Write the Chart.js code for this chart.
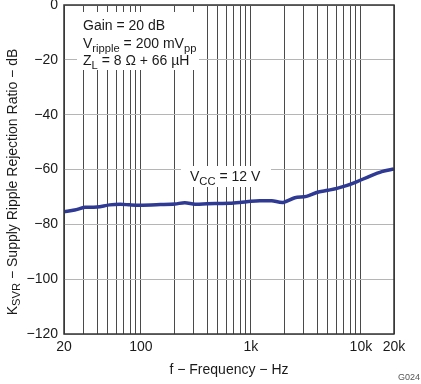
<!DOCTYPE html>
<html>
<head>
<meta charset="UTF-8">
<title>KSVR vs Frequency</title>
<style>
  body { margin: 0; background: #fff; }
  #wrap { width: 421px; height: 384px; position: relative; }
</style>
<script src="https://cdn.jsdelivr.net/npm/chart.js"></script>
</head>
<body>
<div id="wrap"><canvas id="c" width="421" height="384"></canvas></div>
<script>
// data
const freqHz = [20, 25, 31, 40, 52, 65, 80, 98, 150, 204, 251, 311, 400, 522, 642, 795, 1000, 1207, 1545, 1970, 2513, 3200, 3960, 5000, 6060, 7500, 9250, 12100, 15500, 20000];
const ksvrDb = [-75.4, -74.8, -73.8, -73.7, -72.9, -72.7, -72.9, -73.0, -72.8, -72.6, -72.1, -72.7, -72.5, -72.4, -72.3, -72.0, -71.6, -71.4, -71.4, -72.0, -70.3, -69.8, -68.4, -67.6, -66.9, -65.8, -64.4, -62.4, -60.8, -59.8];
const xTickLabels = { 20: '20', 100: '100', 1000: '1k', 10000: '10k', 20000: '20k' };
const yTicks = [0, -20, -40, -60, -80, -100, -120];

const FONT = '"Liberation Sans", Arial, sans-serif';
const FS = 14;

// subscript-aware text runs: [text, isSub]
function drawRuns(ctx, runs, x, y, size) {
  let cx = x;
  runs.forEach(([t, sub]) => {
    const s = sub ? size * 0.8 : size;
    ctx.font = s + 'px ' + FONT;
    ctx.fillText(t, cx, sub ? y + size * 0.3 : y);
    cx += ctx.measureText(t).width;
  });
  return cx - x;
}

const extras = {
  id: 'extras',
  beforeDatasetsDraw(chart) {
    const ctx = chart.ctx;
    ctx.save();
    // annotation backgrounds
    ctx.fillStyle = '#ffffff';
    ctx.fillRect(77, 12, 122, 58);
    ctx.fillRect(181, 166, 90, 21);
    ctx.fillStyle = '#1a1a1a';
    ctx.textBaseline = 'alphabetic';
    drawRuns(ctx, [['Gain = 20 dB', false]], 83, 30, FS);
    drawRuns(ctx, [['V', false], ['ripple', true], [' = 200 mV', false], ['pp', true]], 83, 48, FS);
    drawRuns(ctx, [['Z', false], ['L', true], [' = 8 \u03A9 + 66 \u00B5H', false]], 83, 65, FS);
    drawRuns(ctx, [['V', false], ['CC', true], [' = 12 V', false]], 190, 181, FS);
    ctx.restore();
  },
  afterDraw(chart) {
    const ctx = chart.ctx;
    const a = chart.chartArea;
    ctx.save();
    ctx.strokeStyle = '#333';
    ctx.lineWidth = 1.5;
    ctx.strokeRect(a.left, a.top, a.right - a.left, a.bottom - a.top);
    ctx.fillStyle = '#1a1a1a';
    // x title
    ctx.font = FS + 'px ' + FONT;
    ctx.textAlign = 'center';
    ctx.textBaseline = 'middle';
    ctx.fillText('f \u2212 Frequency \u2212 Hz', (a.left + a.right) / 2, 370);
    // y title (rotated, with subscript)
    ctx.translate(13, 182);
    ctx.rotate(-Math.PI / 2);
    ctx.textAlign = 'left';
    ctx.textBaseline = 'middle';
    const runs = [['K', false], ['SVR', true], [' \u2212 Supply Ripple Rejection Ratio \u2212 dB', false]];
    let w = 0;
    runs.forEach(([t, sub]) => { ctx.font = (sub ? FS * 0.8 : FS) + 'px ' + FONT; w += ctx.measureText(t).width; });
    drawRuns(ctx, runs, -w / 2, 0, FS);
    ctx.restore();
    ctx.save();
    ctx.fillStyle = '#555';
    ctx.font = '9px ' + FONT;
    ctx.textAlign = 'right';
    ctx.textBaseline = 'middle';
    ctx.fillText('G024', 420, 378);
    ctx.restore();
  }
};

new Chart(document.getElementById('c'), {
  type: 'line',
  data: {
    datasets: [{
      data: freqHz.map((f, i) => ({ x: f, y: ksvrDb[i] })),
      borderColor: '#2e3a94',
      borderWidth: 3.5,
      pointRadius: 0,
      tension: 0.3,
      fill: false
    }]
  },
  options: {
    responsive: false,
    animation: false,
    layout: { padding: { top: 5, right: 27, left: 0, bottom: 0 } },
    plugins: { legend: { display: false }, tooltip: { enabled: false } },
    scales: {
      x: {
        type: 'logarithmic',
        min: 20, max: 20000,
        afterBuildTicks(scale) {
          const t = [];
          for (let d = 10; d <= 10000; d *= 10) {
            for (let m = 1; m <= 9; m++) {
              const v = m * d;
              if (v >= 20 && v <= 20000) t.push({ value: v });
            }
          }
          scale.ticks = t;
        },
        afterFit(scale) { scale.height = 50; scale.paddingLeft = 0; scale.paddingRight = 0; },
        ticks: {
          autoSkip: false, maxRotation: 0, padding: 5,
          color: '#1a1a1a', font: { family: FONT, size: FS },
          callback: v => xTickLabels[v] || ''
        },
        grid: { color: '#4a4a4a', lineWidth: 1, drawTicks: false },
        border: { display: false }
      },
      y: {
        min: -120, max: 0,
        afterBuildTicks(scale) { scale.ticks = yTicks.map(v => ({ value: v })); },
        afterFit(scale) { scale.width = 64; scale.paddingTop = 0; scale.paddingBottom = 0; },
        ticks: {
          padding: 6, color: '#1a1a1a', font: { family: FONT, size: FS },
          callback: v => v === 0 ? '0' : '\u2212' + Math.abs(v)
        },
        grid: { color: '#b5b5b5', lineWidth: 1, drawTicks: false },
        border: { display: false }
      }
    }
  },
  plugins: [extras]
});
</script>
</body>
</html>
